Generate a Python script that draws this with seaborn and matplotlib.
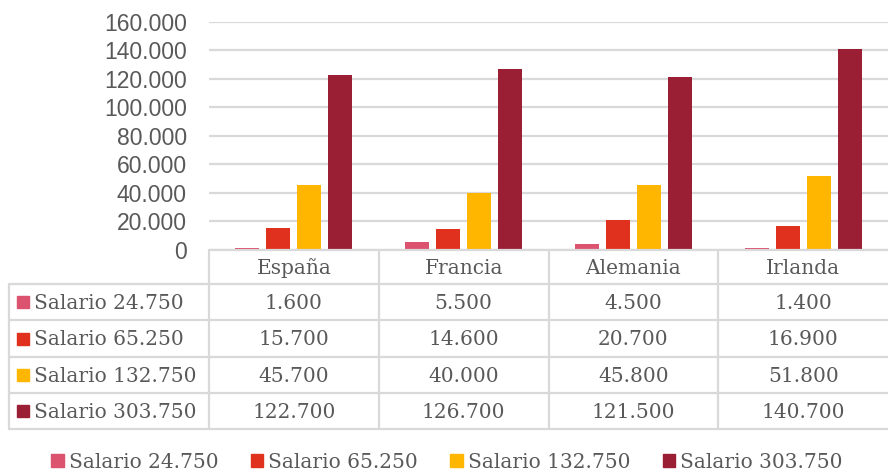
import matplotlib
matplotlib.use("Agg")
import matplotlib.pyplot as plt
import matplotlib.patches as mpatches
import seaborn as sns
import pandas as pd
from matplotlib.ticker import FuncFormatter

paises = ["España", "Francia", "Alemania", "Irlanda"]
series = ["Salario 24.750", "Salario 65.250", "Salario 132.750", "Salario 303.750"]
s_24750 = [1600, 5500, 4500, 1400]
s_65250 = [15700, 14600, 20700, 16900]
s_132750 = [45700, 40000, 45800, 51800]
s_303750 = [122700, 126700, 121500, 140700]
colores = ["#DB536E", "#E0301E", "#FFB600", "#9A1F35"]

valores = [s_24750, s_65250, s_132750, s_303750]
df = pd.DataFrame(
    [(p, s, v) for s, vals in zip(series, valores) for p, v in zip(paises, vals)],
    columns=["pais", "serie", "valor"],
)

def miles(x):
    return f"{int(round(x)):,}".replace(",", ".")

W, H = 888, 473
fig = plt.figure(figsize=(W / 100, H / 100), dpi=100)
sns.set_style("white")

grid_c = "#D9D9D9"
txt_c = "#595959"

# bar area in pixel terms
x0, x1, ytop, ybot = 209, 888, 21.7, 250
ax = fig.add_axes([x0 / W, (H - ybot) / H, (x1 - x0) / W, (ybot - ytop) / H])
sns.barplot(data=df, x="pais", y="valor", hue="serie", palette=colores, saturation=1,
            width=0.73, gap=0.22, linewidth=0, legend=False, ax=ax)
ax.set_ylim(0, 160000)
ax.set_xlim(-0.5, 3.5)
ax.set_yticks(range(0, 160001, 20000))
ax.yaxis.set_major_formatter(FuncFormatter(lambda v, _: miles(v)))
ax.yaxis.grid(True, color=grid_c, linewidth=1.6)
ax.set_axisbelow(True)
ax.set_xticks([])
ax.set_xlabel("")
ax.set_ylabel("")
for sp in ax.spines.values():
    sp.set_visible(False)
ax.tick_params(axis="y", length=0, pad=16, labelsize=16.5, labelcolor=txt_c)
for t in ax.get_yticklabels():
    t.set_fontfamily("Liberation Sans")

# data table below the chart
tb = fig.add_axes([0, 0, 1, 1])
tb.set_xlim(0, W)
tb.set_ylim(H, 0)
tb.axis("off")
tb.patch.set_alpha(0)

rows = [250, 284, 320, 357, 393, 429]
col_w = (x1 - x0) / len(paises)
cols = [x0 + i * col_w for i in range(len(paises) + 1)]
lw = 1.6
tb.plot([x0, x1], [rows[0], rows[0]], color=grid_c, lw=lw)
for r in rows[1:]:
    tb.plot([9, x1], [r, r], color=grid_c, lw=lw)
tb.plot([9, 9], [rows[1], rows[-1]], color=grid_c, lw=lw)
for c in cols[:-1]:
    tb.plot([c, c], [rows[0], rows[-1]], color=grid_c, lw=lw)

serif = "DejaVu Serif"
fs = 14.5
for i, p in enumerate(paises):
    tb.text(cols[i] + col_w / 2, (rows[0] + rows[1]) / 2 + 1, p, ha="center", va="center",
            fontsize=fs, family=serif, color=txt_c)
for j, (s, vals, c) in enumerate(zip(series, valores, colores)):
    yc = (rows[j + 1] + rows[j + 2]) / 2
    tb.add_patch(mpatches.Rectangle((17, yc - 6), 12, 12, color=c))
    tb.text(34, yc + 1, s, ha="left", va="center", fontsize=fs, family=serif, color=txt_c)
    for i, v in enumerate(vals):
        tb.text(cols[i] + col_w / 2, yc + 1, miles(v), ha="center", va="center",
                fontsize=fs, family=serif, color=txt_c)

handles = [mpatches.Patch(color=c, label=s) for s, c in zip(series, colores)]
leg = fig.legend(handles=handles, loc="center", bbox_to_anchor=(447 / W, 1 - 462 / H),
                 ncol=4, frameon=False, handlelength=0.62, handleheight=0.62,
                 handletextpad=0.25, columnspacing=1.6, borderpad=0,
                 prop={"family": serif, "size": fs})
for t in leg.get_texts():
    t.set_color(txt_c)

fig.savefig("out.png", dpi=100)
